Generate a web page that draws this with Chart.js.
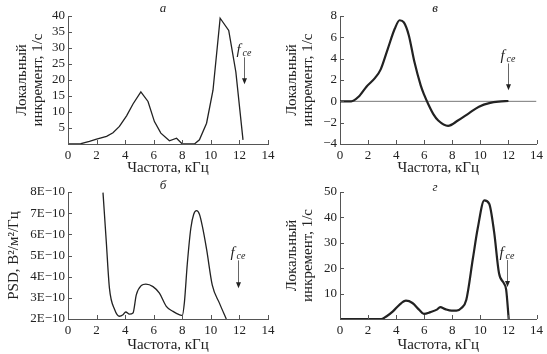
<!DOCTYPE html>
<html>
<head>
<meta charset="utf-8">
<script src="https://cdn.jsdelivr.net/npm/chart.js@4.4.1/dist/chart.umd.min.js"></script>
<style>
	html, body { margin: 0; padding: 0; background: #fff; }
	#wrap { position: relative; width: 547px; height: 354px; overflow: hidden; }
	.p { position: absolute; }
</style>
</head>
<body>
<div id="wrap">
	<div class="p" style="left:0;top:0;width:280px;height:177px"><canvas id="chA"></canvas></div>
	<div class="p" style="left:0;top:177px;width:280px;height:177px"><canvas id="chB"></canvas></div>
	<div class="p" style="left:273px;top:0;width:274px;height:177px"><canvas id="chV"></canvas></div>
	<div class="p" style="left:273px;top:177px;width:274px;height:177px"><canvas id="chG"></canvas></div>
</div>
<script>
// shared frequency axis, kHz
const xTicks = [0, 2, 4, 6, 8, 10, 12, 14];

// panel а: local growth rate, 1/s
const freqA = [0, 0.9, 1.5, 2.0, 2.7, 3.15, 3.6, 4.1, 4.55, 5.1, 5.6, 6.05, 6.5, 7.1, 7.6, 8.0, 8.85, 9.2, 9.7, 10.15, 10.65, 11.25, 11.75, 12.25];
const growthA = [0, 0.1, 0.8, 1.5, 2.4, 3.5, 5.5, 8.8, 12.5, 16.3, 13.3, 7.0, 3.4, 1.0, 1.8, 0, 0, 1.3, 6.5, 16.8, 39.3, 35.5, 22.5, 1.3];
const yTicksA = [5, 10, 15, 20, 25, 30, 35, 40];

// panel б: PSD, B^2/m^2/Hz
const freqB = [2.45, 2.68, 2.9, 3.27, 3.6, 3.85, 4.04, 4.3, 4.55, 4.78, 5.13, 5.45, 5.95, 6.4, 6.88, 7.35, 7.82, 8.0, 8.15, 8.35, 8.6, 8.8, 9.0, 9.2, 9.4, 9.7, 10.1, 10.6, 11.08];
const psdB = [7.97e-10, 5.65e-10, 3.46e-10, 2.44e-10, 2.13e-10, 2.2e-10, 2.33e-10, 2.23e-10, 2.28e-10, 3.14e-10, 3.58e-10, 3.65e-10, 3.53e-10, 3.22e-10, 2.6e-10, 2.36e-10, 2.2e-10, 2.17e-10, 2.8e-10, 4.6e-10, 6.3e-10, 6.95e-10, 7.12e-10, 6.95e-10, 6.4e-10, 5.3e-10, 3.6e-10, 2.75e-10, 2.0e-10];
const yTicksB = [2e-10, 3e-10, 4e-10, 5e-10, 6e-10, 7e-10, 8e-10];

// panel в: local growth rate, 1/s
const freqV = [0, 0.8, 1.3, 1.9, 2.5, 2.9, 3.4, 3.9, 4.25, 4.55, 4.9, 5.3, 5.75, 6.0, 6.3, 6.65, 7.0, 7.7, 8.4, 9.2, 9.9, 10.7, 11.3, 12];
const growthV = [0, 0, 0.4, 1.4, 2.2, 3.0, 4.9, 6.8, 7.6, 7.4, 6.2, 3.7, 1.5, 0.6, -0.3, -1.2, -1.8, -2.3, -1.8, -1.1, -0.5, -0.15, -0.03, 0.03];
const yTicksV = [-4, -2, 0, 2, 4, 6, 8];

// panel г: local growth rate, 1/s
const freqG = [0, 2.95, 3.3, 3.77, 4.23, 4.7, 5.16, 5.63, 5.98, 6.44, 6.9, 7.14, 7.5, 7.95, 8.3, 8.65, 9.0, 9.47, 9.81, 10.28, 10.63, 10.98, 11.33, 11.67, 11.84, 12.02];
const growthG = [0, 0, 1.0, 3.0, 5.6, 7.2, 6.3, 3.7, 2.0, 2.7, 3.7, 4.7, 3.9, 3.3, 3.3, 4.3, 7.6, 23.9, 35.6, 46.7, 45.4, 34.3, 18.0, 14.1, 11.5, 0];
const yTicksG = [10, 20, 30, 40, 50];

// f_ce arrow: [freq, top, bottom] in data units
const fceA = [12.3, 27.1, 18.7];
const fceB = [11.9, 4.77e-10, 3.45e-10];
const fceV = [12.0, 3.55, 1.05];
const fceG = [11.9, 23.2, 12.6];

const FONT = "'Liberation Serif', 'Times New Roman', serif";
const INK = '#222';
const AXIS = '#555';
const titleFont = { family: FONT, size: 15, lineHeight: 1.05 };
const tickFont = { family: FONT, size: 13 };

const toPoints = (xs, ys) => xs.map((x, i) => ({ x: x, y: ys[i] }));

// tick marks pointing into the plot
const inwardTicks = {
	id: 'inwardTicks',
	afterDatasetsDraw(chart) {
		const { ctx, chartArea: a, scales: { x, y } } = chart;
		ctx.save();
		ctx.strokeStyle = AXIS;
		ctx.lineWidth = 1;
		ctx.beginPath();
		x.ticks.forEach(t => {
			const px = Math.round(x.getPixelForValue(t.value)) + 0.5;
			ctx.moveTo(px, a.bottom);
			ctx.lineTo(px, a.bottom - 4);
		});
		y.ticks.forEach(t => {
			const py = Math.round(y.getPixelForValue(t.value)) + 0.5;
			ctx.moveTo(a.left, py);
			ctx.lineTo(a.left + 4, py);
		});
		ctx.stroke();
		ctx.restore();
	}
};

// panel letter and f_ce arrow
const panelMarks = {
	id: 'panelMarks',
	afterDraw(chart, args, opts) {
		const { ctx, chartArea: a, scales: { x, y } } = chart;
		ctx.save();
		ctx.fillStyle = INK;
		ctx.font = 'italic 13px ' + FONT;
		ctx.textAlign = 'center';
		ctx.textBaseline = 'alphabetic';
		ctx.fillText(opts.letter, a.left + 95, opts.letterY);

		const [fx, fTop, fBot] = opts.arrow;
		const px = Math.round(x.getPixelForValue(fx)) + 0.5;
		const yt = y.getPixelForValue(fTop);
		const yb = y.getPixelForValue(fBot);
		ctx.textAlign = 'left';
		ctx.font = 'italic 15px ' + FONT;
		ctx.fillText('f', px - 8, yt - 3);
		ctx.font = 'italic 10px ' + FONT;
		ctx.fillText('ce', px - 2, yt - 1);

		ctx.strokeStyle = '#666';
		ctx.lineWidth = 1;
		ctx.beginPath();
		ctx.moveTo(px, yt);
		ctx.lineTo(px, yb - 5);
		ctx.stroke();
		ctx.fillStyle = '#222';
		ctx.beginPath();
		ctx.moveTo(px - 2.5, yb - 6);
		ctx.lineTo(px + 2.5, yb - 6);
		ctx.lineTo(px, yb);
		ctx.closePath();
		ctx.fill();
		ctx.restore();
	}
};

function makePanel(id, p) {
	const datasets = [{
		data: toPoints(p.xs, p.ys),
		borderColor: INK,
		borderWidth: p.lineWidth,
		pointRadius: 0,
		tension: 0,
		cubicInterpolationMode: p.smooth ? 'monotone' : 'default',
		fill: false
	}];
	if (p.zeroLine) {
		datasets.push({
			data: toPoints([0, 14], [0, 0]),
			borderColor: '#777',
			borderWidth: 1,
			pointRadius: 0,
			fill: false
		});
	}
	return new Chart(document.getElementById(id), {
		type: 'line',
		data: { datasets: datasets },
		options: {
			responsive: true,
			maintainAspectRatio: false,
			animation: false,
			layout: { padding: { top: p.padTop, right: p.padRight, left: 0, bottom: 0 } },
			plugins: {
				legend: { display: false },
				tooltip: { enabled: false },
				panelMarks: { letter: p.letter, letterY: p.letterY, arrow: p.arrow }
			},
			scales: {
				x: {
					type: 'linear',
					min: 0, max: 14,
					afterBuildTicks: s => { s.ticks = xTicks.map(v => ({ value: v })); },
					afterFit: s => { s.height = p.xHeight; },
					grid: { display: false, drawTicks: false },
					border: { display: true, color: AXIS, width: 1 },
					ticks: { color: INK, font: tickFont, padding: 4, maxRotation: 0, autoSkip: false },
					title: { display: true, text: 'Частота, кГц', color: INK, font: titleFont, padding: { top: 0, bottom: 1 } }
				},
				y: {
					type: 'linear',
					min: p.yMin, max: p.yMax,
					afterBuildTicks: s => { s.ticks = p.yTicks.map(v => ({ value: v })); },
					afterFit: s => { s.width = p.yWidth; },
					grid: { display: false, drawTicks: false },
					border: { display: true, color: AXIS, width: 1 },
					ticks: {
						color: INK, font: tickFont, padding: 3, autoSkip: false,
						callback: p.yFormat || (v => String(v).replace('-', '−'))
					},
					title: { display: true, text: p.yTitle, color: INK, font: titleFont, padding: { top: p.titlePad, bottom: 0 } }
				}
			}
		},
		plugins: [inwardTicks, panelMarks]
	});
}

const growthTitle = ['Локальный', 'инкремент, 1/с'];

makePanel('chA', {
	xs: freqA, ys: growthA, lineWidth: 1.3, smooth: false,
	yMin: 0, yMax: 40, yTicks: yTicksA, yTitle: growthTitle, titlePad: 14,
	padTop: 16, padRight: 12, xHeight: 33, yWidth: 68,
	letter: 'а', letterY: 12, arrow: fceA
});

makePanel('chB', {
	xs: freqB, ys: psdB, lineWidth: 1.3, smooth: true,
	yMin: 2e-10, yMax: 8e-10, yTicks: yTicksB, yTitle: 'PSD, В²/м²/Гц', titlePad: 6,
	yFormat: v => Math.round(v * 1e10) + 'E−10',
	padTop: 15, padRight: 12, xHeight: 35, yWidth: 68,
	letter: 'б', letterY: 12, arrow: fceB
});

makePanel('chV', {
	xs: freqV, ys: growthV, lineWidth: 2.2, smooth: true, zeroLine: true,
	yMin: -4, yMax: 8, yTicks: yTicksV, yTitle: growthTitle, titlePad: 11,
	padTop: 16, padRight: 7, xHeight: 33, yWidth: 67,
	letter: 'в', letterY: 12, arrow: fceV
});

makePanel('chG', {
	xs: freqG, ys: growthG, lineWidth: 2.2, smooth: true,
	yMin: 0, yMax: 50, yTicks: yTicksG, yTitle: growthTitle, titlePad: 11,
	padTop: 15, padRight: 7, xHeight: 35, yWidth: 67,
	letter: 'г', letterY: 14, arrow: fceG
});
</script>
</body>
</html>
